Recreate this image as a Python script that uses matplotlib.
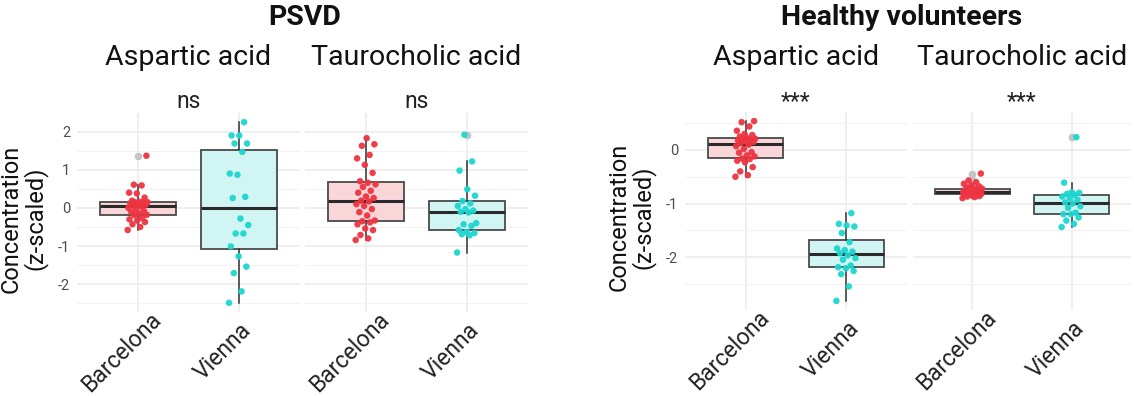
import numpy as np
import matplotlib
matplotlib.use("Agg")
import matplotlib.pyplot as plt
from matplotlib.ticker import MultipleLocator
from matplotlib.transforms import ScaledTranslation

plt.rcParams['font.family'] = ['Roboto', 'DejaVu Sans']

# ---- data ----
sites = ['Barcelona', 'Vienna']
metabolites = ['Aspartic acid', 'Taurocholic acid']

psvd_asp_bcn = [-0.58, -0.50, -0.43, -0.37, -0.33, -0.30, -0.26, -0.19, -0.18, -0.15,
                -0.11, -0.08, -0.04, 0.0, 0.04, 0.06, 0.08, 0.10, 0.12, 0.14,
                0.15, 0.15, 0.16, 0.19, 0.27, 0.38, 0.40, 0.59, 0.61, 1.37]
psvd_asp_vie = [-2.49, -2.19, -1.71, -1.54, -1.27, -1.01, -0.67, -0.67, -0.45, -0.28,
                0.26, 0.29, 0.87, 0.90, 1.47, 1.69, 1.69, 1.90, 1.90, 2.25]
psvd_tau_bcn = [-0.84, -0.80, -0.71, -0.58, -0.54, -0.43, -0.38, -0.35, -0.33, -0.20,
                -0.11, -0.03, 0.05, 0.10, 0.17, 0.19, 0.26, 0.30, 0.40, 0.45,
                0.55, 0.62, 0.66, 0.70, 0.92, 1.13, 1.30, 1.39, 1.63, 1.67, 1.83]
psvd_tau_vie = [-1.17, -0.72, -0.69, -0.66, -0.63, -0.58, -0.47, -0.43, -0.40, -0.12,
                -0.10, -0.07, -0.03, 0.05, 0.12, 0.18, 0.32, 0.49, 0.98, 1.22, 1.92]

hv_asp_bcn = [-0.50, -0.47, -0.40, -0.32, -0.23, -0.20, -0.17, -0.16, -0.12, -0.10,
              -0.05, -0.04, 0.02, 0.07, 0.10, 0.13, 0.15, 0.16, 0.18, 0.19,
              0.20, 0.21, 0.22, 0.25, 0.28, 0.30, 0.36, 0.44, 0.52, 0.54]
hv_asp_vie = [-2.82, -2.55, -2.32, -2.26, -2.21, -2.19, -2.16, -2.05, -2.02, -1.97,
              -1.93, -1.90, -1.87, -1.84, -1.72, -1.55, -1.43, -1.41, -1.38, -1.18]
hv_tau_bcn = [-0.90, -0.88, -0.87, -0.86, -0.85, -0.84, -0.83, -0.82, -0.82, -0.81,
              -0.80, -0.80, -0.79, -0.79, -0.78, -0.78, -0.77, -0.76, -0.75, -0.74,
              -0.73, -0.72, -0.72, -0.70, -0.68, -0.66, -0.63, -0.60, -0.57, -0.44]
hv_tau_vie = [-1.44, -1.38, -1.32, -1.26, -1.20, -1.20, -1.17, -1.08, -1.05, -1.00,
              -0.98, -0.93, -0.90, -0.87, -0.84, -0.82, -0.80, -0.79, -0.61, 0.24]

psvd_signif = ['ns', 'ns']
hv_signif = ['***', '***']

# ---- style ----
pt_colors = ['#EE3441', '#1DD6D0']
box_fills = ['#FAD6D9', '#D0F5F3']
W, H = 1134, 396

fig = plt.figure(figsize=(W / 100, H / 100), dpi=100)


def px_axes(x0, y0, x1, y1):
    return fig.add_axes([x0 / W, 1 - y1 / H, (x1 - x0) / W, (y1 - y0) / H])


def ftext(x, y, s, **kw):
    # text placed in pixel coords measured from the top-left corner
    return fig.text(x / W, 1 - y / H, s, **kw)


def draw_panel(ax, groups, ylim, show_y):
    for i, vals in enumerate(groups):
        ax.boxplot(vals, positions=[i + 1], widths=0.75, patch_artist=True,
                   showcaps=False,
                   boxprops=dict(facecolor=box_fills[i], edgecolor='#4a4a4a', lw=1.3),
                   medianprops=dict(color='#2a2a2a', lw=2.2),
                   whiskerprops=dict(color='#333333', lw=1.1),
                   flierprops=dict(marker='o', markerfacecolor='#C4C4C4',
                                   markeredgecolor='none', markersize=5.5),
                   zorder=2)
        n = len(vals)
        # deterministic jitter
        offs = ((np.arange(n) * 0.618034) % 1 - 0.5) * 0.2
        ax.scatter(i + 1 + offs, vals, s=22, color=pt_colors[i], edgecolors='none',
                   zorder=3, alpha=0.95)
    ax.set_xlim(0.4, 2.6)
    ax.set_ylim(*ylim)
    ax.set_xticks([1, 2])
    ax.set_xticklabels([])
    # rotated category labels, centred a bit left of / below each tick
    tr = ax.get_xaxis_transform() + ScaledTranslation(-0.16, -0.40, fig.dpi_scale_trans)
    for i, name in enumerate(sites):
        ax.text(i + 1, 0, name, transform=tr, rotation=45, ha='center', va='center',
                rotation_mode='anchor', fontsize=16.5, color='#222222')
    ax.yaxis.set_major_locator(MultipleLocator(1))
    ax.yaxis.set_minor_locator(MultipleLocator(0.5))
    ax.grid(which='major', color='#EBEBEB', lw=1.1, zorder=0)
    ax.grid(which='minor', axis='y', color='#F2F2F2', lw=0.8, zorder=0)
    ax.set_axisbelow(True)
    for s in ax.spines.values():
        s.set_visible(False)
    ax.tick_params(which='both', length=0)
    ax.tick_params(axis='y', labelsize=10.5, labelcolor='#4D4D4D', pad=5)
    ax.yaxis.set_major_formatter(plt.FuncFormatter(lambda v, p: '%d' % round(v)))
    if not show_y:
        ax.set_yticklabels([])


# left block: PSVD
lim_l = (-2.73, 2.49)
panels_l = [(77, 113, 300, 312), (305, 113, 528, 312)]
ax1 = px_axes(*panels_l[0])
ax2 = px_axes(*panels_l[1])
draw_panel(ax1, [psvd_asp_bcn, psvd_asp_vie], lim_l, True)
draw_panel(ax2, [psvd_tau_bcn, psvd_tau_vie], lim_l, False)

# right block: healthy volunteers
lim_r = (-2.99, 0.71)
panels_r = [(685, 112, 907, 310), (913, 112, 1131, 310)]
ax3 = px_axes(*panels_r[0])
ax4 = px_axes(*panels_r[1])
draw_panel(ax3, [hv_asp_bcn, hv_asp_vie], lim_r, True)
draw_panel(ax4, [hv_tau_bcn, hv_tau_vie], lim_r, False)

for ax in (ax1, ax3):
    ax.set_ylabel('Concentration\n(z-scaled)', fontsize=17, color='#111111',
                  linespacing=1.0, va='center')
    ax.yaxis.set_label_coords(-0.24, 0.47)

for box, met, sig in zip(panels_l + panels_r, metabolites * 2, psvd_signif + hv_signif):
    cx = (box[0] + box[2]) / 2
    ftext(cx, 108.5, sig, ha='center', va='baseline', fontsize=16.5, color='#222222')
    ftext(cx, 65, met, ha='center', va='baseline', fontsize=20.5, color='#111111')

ftext(305, 25, 'PSVD', ha='center', va='baseline', fontsize=20.5,
      fontweight='bold', color='#111111')
ftext(902, 25, 'Healthy volunteers', ha='center', va='baseline', fontsize=20.5,
      fontweight='bold', color='#111111')

fig.savefig('out.png', dpi=100, facecolor='white')
